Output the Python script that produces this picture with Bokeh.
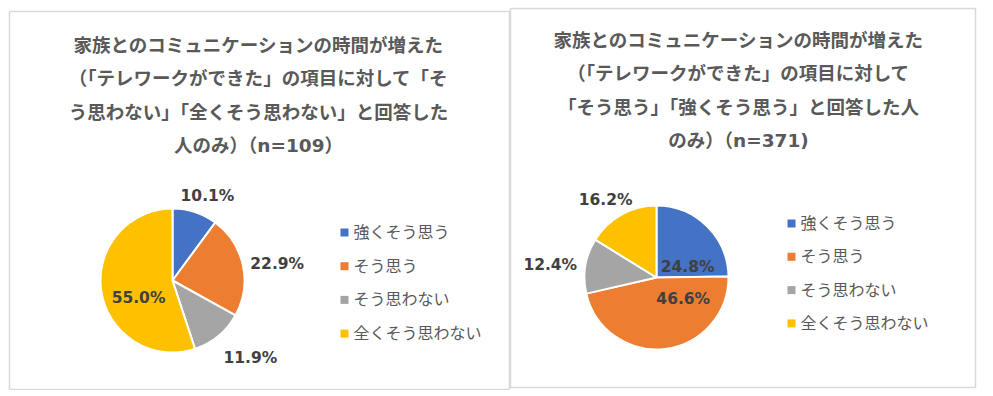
import numpy as np
from bokeh.plotting import figure
from bokeh.models import Range1d, ColumnDataSource
from bokeh.core.properties import value
from bokeh.embed import file_html
from bokeh.resources import INLINE

# ---------------- data ----------------
categories = ["強くそう思う", "そう思う", "そう思わない", "全くそう思わない"]
left_values = [10.1, 22.9, 11.9, 55.0]
right_values = [24.8, 46.6, 12.4, 16.2]
left_title = ["家族とのコミュニケーションの時間が増えた",
              "（「テレワークができた」の項目に対して「そ",
              "う思わない」「全くそう思わない」と回答した",
              "人のみ）（n=109）"]
right_title = ["家族とのコミュニケーションの時間が増えた",
               "（「テレワークができた」の項目に対して",
               "「そう思う」「強くそう思う」と回答した人",
               "のみ）（n=371)"]

# ---------------- style ----------------
colors = ["#4472C4", "#ED7D31", "#A5A5A5", "#FFC000"]
FONT = "DejaVu Sans, 'Noto Sans CJK JP', sans-serif"
W, H = 980, 390

p = figure(width=W, height=H, output_backend="svg", toolbar_location=None,
           x_range=Range1d(0, W), y_range=Range1d(0, H), min_border=0)
p.axis.visible = False
p.xgrid.visible = False
p.ygrid.visible = False
p.outline_line_color = None
p.background_fill_color = "white"


def pg(px, py):
    """picture pixel -> data coordinates"""
    return px, H - py


# panels
for (x0, y0, x1, y1) in [(9, 11, 509, 389), (510, 8, 975, 387)]:
    a, b = pg(x0, y0)
    c, d = pg(x1, y1)
    p.quad(left=a, right=c, top=b, bottom=d, fill_color="white",
           line_color="#D9D9D9", line_width=1.5)


def draw_chart(vals, title, center, radius, title_cx, title_y0, label_layout,
               leg_x, leg_y0, leg_dy):
    cx, cy = pg(*center)
    fr = np.array(vals) / sum(vals)
    cum = np.concatenate([[0], np.cumsum(fr)])
    start = np.pi / 2 - 2 * np.pi * cum[1:]
    end = np.pi / 2 - 2 * np.pi * cum[:-1]
    src = ColumnDataSource(dict(x=[cx] * len(vals), y=[cy] * len(vals),
                                s=start, e=end, c=colors))
    p.wedge(x="x", y="y", radius=radius, radius_units="screen",
            start_angle="s", end_angle="e", fill_color="c",
            line_color="white", line_width=2, source=src)
    # labels
    mids = 2 * np.pi * (cum[:-1] + fr / 2)
    lx, ly, lt = [], [], []
    for i, v in enumerate(vals):
        dist, dang = label_layout[i]
        th = mids[i] + np.deg2rad(dang)
        lx.append(cx + dist * np.sin(th))
        ly.append(cy + dist * np.cos(th))
        lt.append(f"{v:.1f}%")
    p.text(x=lx, y=ly, text=lt, text_font=value(FONT), text_font_style="bold",
           text_font_size="15.5px", text_color="#404040", text_align="center",
           text_baseline="middle")
    # title
    tx, _ = pg(title_cx, 0)
    ty = [pg(0, title_y0 + 33.3 * i)[1] for i in range(len(title))]
    p.text(x=[tx] * len(title), y=ty, text=title, text_font=value(FONT),
           text_font_style="bold", text_font_size="18.5px", text_color="#595959",
           text_align="center", text_baseline="middle")
    # legend
    sx, _ = pg(leg_x, 0)
    ly2 = [pg(0, leg_y0 + leg_dy * i)[1] for i in range(len(categories))]
    p.scatter(x=[sx] * len(categories), y=ly2, marker="square", size=8,
              fill_color=colors, line_color=None)
    p.text(x=[sx + 9] * len(categories), y=ly2, text=categories,
           text_font=value(FONT), text_font_size="16px", text_color="#595959",
           text_align="left", text_baseline="middle")


draw_chart(left_values, left_title, (172, 280), 72, 258, 45,
           [(91, 4.4), (106, 3.4), (110, -5.4), (38, -17.6)],
           344, 232, 33.7)
draw_chart(right_values, right_title, (656, 277), 72, 738, 40,
           [(33, 26), (34, -45), (107, -2.5), (93, -4)],
           791, 223, 33.3)

open("out.html", "w").write(file_html(p, INLINE))
